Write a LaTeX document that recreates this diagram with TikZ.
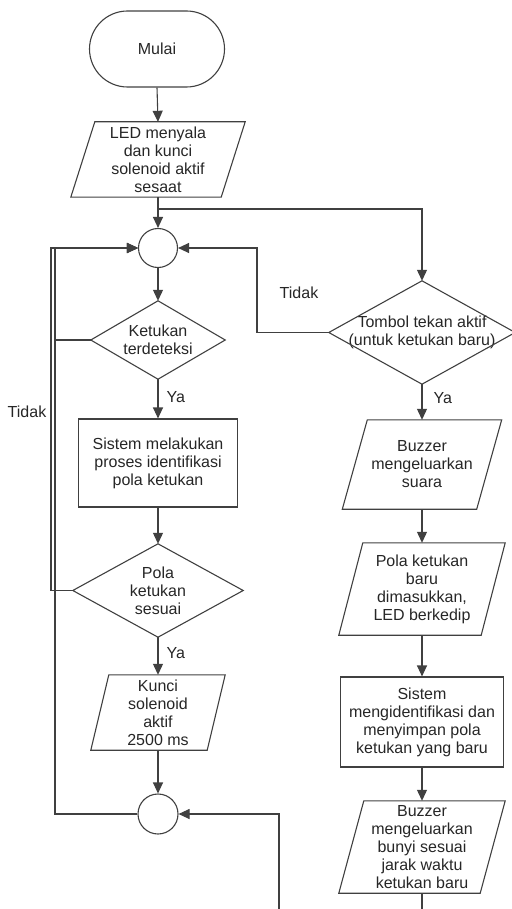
\documentclass[tikz,border=0pt]{standalone}
\usepackage{fontspec}
\setmainfont{Liberation Sans}
\usetikzlibrary{arrows.meta,calc}
\newcommand\iobox[7]{%
  \node[bx, minimum width=#4pt, minimum height=#5pt] (#1) at (#2,#3) {#7};
  \draw[ln] ([xshift=-#6pt]#1.south west) -- ([xshift=#6pt]#1.north west) -- ([xshift=#6pt]#1.north east) -- ([xshift=-#6pt]#1.south east) -- cycle;}
\newcommand\decbox[6]{%
  \node[bx, minimum width=#4pt, minimum height=#5pt] (#1) at (#2,#3) {#6};
  \draw[ln] (#1.north) -- (#1.east) -- (#1.south) -- (#1.west) -- cycle;}
\begin{document}
\begin{tikzpicture}[x=1pt,y=-1pt,
  ln/.style={draw=black!75, line width=1.1pt},
  arr/.style={ln, -{Triangle[length=11pt,width=10pt]}},
  txt/.style={align=center, text=black!85, font=\fontsize{16pt}{18pt}\selectfont},
  bx/.style={txt, inner sep=0pt, shape=rectangle},
  term/.style={bx, ln, rounded corners=38pt},
  proc/.style={bx, ln},
  conn/.style={ln, circle, inner sep=0pt},
  lbl/.style={txt, inner sep=0pt}
]
\useasboundingbox (0,0) rectangle (511,909);

% left column
\node[term, minimum width=135pt, minimum height=76pt] (start) at (157,49) {Mulai};
\iobox{led}{158}{159.5}{150}{75}{12}{LED menyala\\dan kunci\\solenoid aktif\\sesaat}
\node[conn, minimum size=39pt] (c1) at (158,248) {};
\decbox{d1}{158}{340}{134}{78}{Ketukan\\terdeteksi}
\node[proc, minimum width=159pt, minimum height=88pt] (p1) at (158,463) {Sistem melakukan\\proses identifikasi\\pola ketukan};
\decbox{d2}{158}{590.5}{170}{93}{Pola\\ketukan\\sesuai}
\iobox{k}{158}{712.5}{116}{75}{9}{Kunci\\solenoid\\aktif\\2500 ms}
\node[conn, minimum size=40pt] (c2) at (158,814) {};

% right column
\decbox{t}{422}{332.5}{186}{103}{Tombol tekan aktif\\(untuk ketukan baru)}
\iobox{b1}{422}{464.5}{134}{89}{12.5}{Buzzer\\mengeluarkan\\suara}
\iobox{b2}{422}{589}{142}{92}{12}{Pola ketukan\\baru\\dimasukkan,\\LED berkedip}
\node[proc, minimum width=163pt, minimum height=90pt] (s) at (422,722) {Sistem\\mengidentifikasi dan\\menyimpan pola\\ketukan yang baru};
\iobox{b3}{422}{847}{141}{92}{12.5}{Buzzer\\mengeluarkan\\bunyi sesuai\\jarak waktu\\ketukan baru}

% labels
\node[lbl] (tl1) at (27,412) {Tidak};
\node[lbl] (tl2) at (299,293) {Tidak};

% helper coordinates
\coordinate (L1) at (55,248);
\coordinate (L2) at (51,248);
\coordinate (R1) at (257,248);
\coordinate (j) at (158,209);
\coordinate (e1) at (279,909);
\coordinate (e2) at (422,909);

% connectors
\draw[arr] (start.south) -- (led.north);
\draw[arr] (led.south) -- (c1.north);
\draw[arr] (j) -| (t.north);
\draw[arr] (c1.south) -- (d1.north);
\draw[arr] (d1.south) -- node[lbl, right=8pt, pos=0.45] (ya1) {Ya} (p1.north);
\draw[arr] (p1.south) -- (d2.north);
\draw[arr] (d2.south) -- node[lbl, right=8pt, pos=0.42] (ya2) {Ya} (k.north);
\draw[arr] (k.south) -- (c2.north);
\draw[arr] (d1.west) -| (L1) -- (c1.west);
\draw[arr] (d2.west) -| (L2) -- (c1.west);
\draw[arr] (c2.west) -| (L1) -- (c1.west);
\draw[arr] (e1) |- (c2.east);
\draw[arr] (t.west) -| (R1) -- (c1.east);
\draw[arr] (t.south) -- node[lbl, right=11pt, pos=0.38] (ya3) {Ya} (b1.north);
\draw[arr] (b1.south) -- (b2.north);
\draw[arr] (b2.south) -- (s.north);
\draw[arr] (s.south) -- (b3.north);
\draw[ln] (b3.south) -- (e2);
\end{tikzpicture}
\end{document}
